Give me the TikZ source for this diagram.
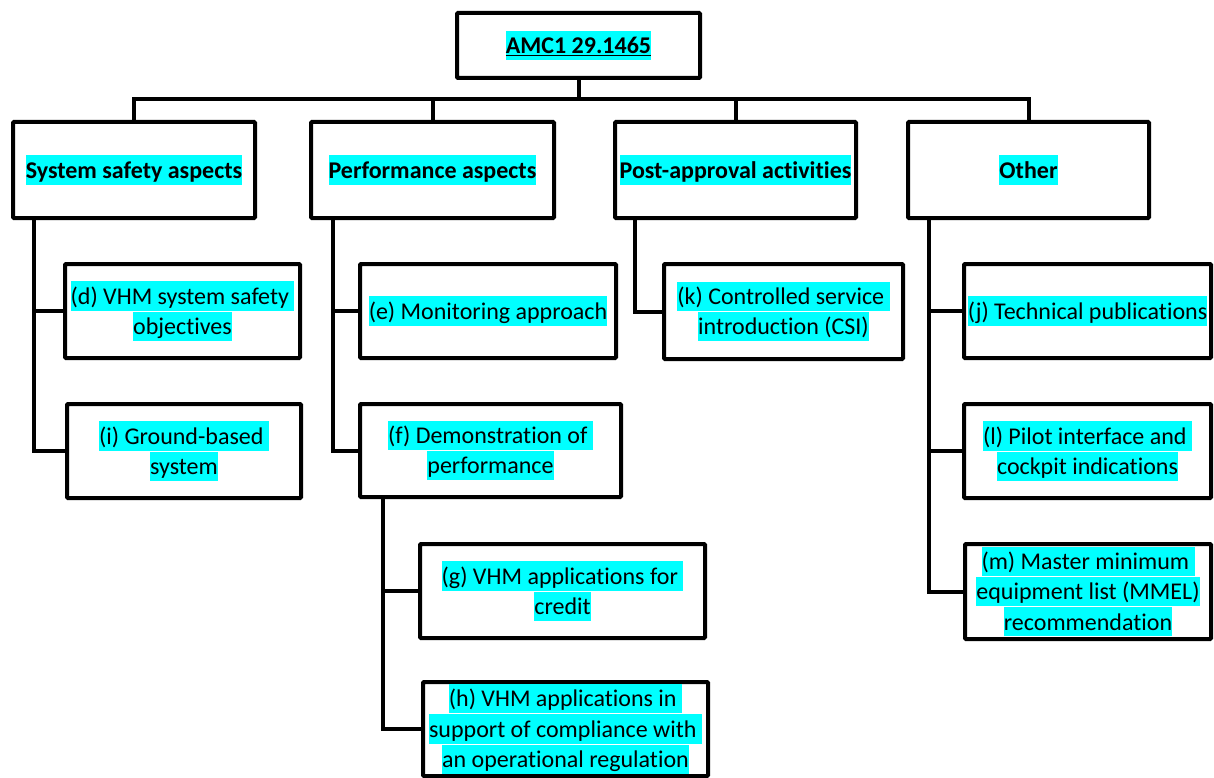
\documentclass[tikz,border=0pt]{standalone}
\usepackage{fontspec}
\setmainfont{Carlito}[Ligatures=NoCommon]
\usepackage{xcolor}
\usetikzlibrary{calc}
\definecolor{hlcyan}{RGB}{0,255,255}
\newcommand{\hl}[1]{{\setlength{\fboxsep}{0pt}\colorbox{hlcyan}{\rule[-0.269em]{0pt}{1.221em}#1}}}
\tikzset{
  box/.style={draw,line width=4pt,rounded corners=1pt,fill=white,inner sep=0pt,align=center,
    font=\fontsize{24}{29.3}\selectfont},
  topbox/.style={box,font=\fontsize{24}{29.3}\selectfont\bfseries},
  wire/.style={line width=4pt,line cap=rect}
}

\begin{document}
\begin{tikzpicture}[x=1pt,y=-1pt]
\useasboundingbox (0,0) rectangle (1214,778);
\clip (0,0) rectangle (1214,778);
% root and first level
\node[topbox,minimum width=243,minimum height=65] (root) at (578.5,45.5) {\hl{\underline{AMC1 29.1465}}};
\node[topbox,minimum width=242,minimum height=96] (ssa) at (134,170) {\hl{System safety aspects}};
\node[topbox,minimum width=243,minimum height=96] (pa) at (432.5,170) {\hl{Performance aspects}};
\node[topbox,minimum width=241,minimum height=96] (paa) at (735.5,170) {\hl{Post-approval activities}};
\node[topbox,minimum width=241,minimum height=96] (other) at (1028.5,170) {\hl{Other}};
\coordinate (bus) at (0,99);
% second level
\node[box,minimum width=235,minimum height=94] (d) at (182.5,311) {\hl{(d) VHM system safety\ }\\\hl{objectives}};
\node[box,minimum width=234,minimum height=94] (i) at (184,451) {\hl{(i) Ground-based\ }\\\hl{system}};
\node[box,minimum width=256,minimum height=94] (e) at (488,311) {\hl{(e) Monitoring approach}};
\node[box,minimum width=261,minimum height=93] (f) at (490.5,450.5) {\hl{(f) Demonstration of\ }\\\hl{performance}};
\node[box,minimum width=285,minimum height=94] (g) at (562.5,591) {\hl{(g) VHM applications for\ }\\\hl{credit}};
\node[box,minimum width=285,minimum height=94] (h) at (565.5,729) {\hl{(h) VHM applications in\ }\\\hl{support of compliance with\ }\\\hl{an operational regulation}};
\node[box,minimum width=239,minimum height=95] (k) at (783.5,311.5) {\hl{(k) Controlled service\ }\\\hl{introduction (CSI)}};
\node[box,minimum width=247,minimum height=94] (j) at (1087.5,311) {\hl{(j) Technical publications}};
\node[box,minimum width=247,minimum height=94] (l) at (1087.5,451) {\hl{(l) Pilot interface and\ }\\\hl{cockpit indications}};
\node[box,minimum width=246,minimum height=95] (m) at (1088,591.5) {\hl{(m) Master minimum\ }\\\hl{equipment list (MMEL)}\\\hl{recommendation}};
% bus
\draw[wire] (root.south) -- (root.south |- bus);
\draw[wire] (ssa.north) -- (ssa.north |- bus) -| (other.north);
\draw[wire] (pa.north) -- (pa.north |- bus);
\draw[wire] (paa.north) -- (paa.north |- bus);
% trunks and branches
\draw[wire] ($(ssa.south west)+(23,0)$) |- (i.west);
\draw[wire] (d.west) -- (d.west -| {$(ssa.south west)+(23,0)$});
\draw[wire] ($(pa.south west)+(24,0)$) |- (f.west);
\draw[wire] (e.west) -- (e.west -| {$(pa.south west)+(24,0)$});
\draw[wire] ($(f.south west)+(25,0)$) |- (h.west);
\draw[wire] (g.west) -- (g.west -| {$(f.south west)+(25,0)$});
\draw[wire] ($(paa.south west)+(22,0)$) |- (k.west);
\draw[wire] ($(other.south west)+(23,0)$) |- (m.west);
\draw[wire] (j.west) -- (j.west -| {$(other.south west)+(23,0)$});
\draw[wire] (l.west) -- (l.west -| {$(other.south west)+(23,0)$});
\end{tikzpicture}
\end{document}
